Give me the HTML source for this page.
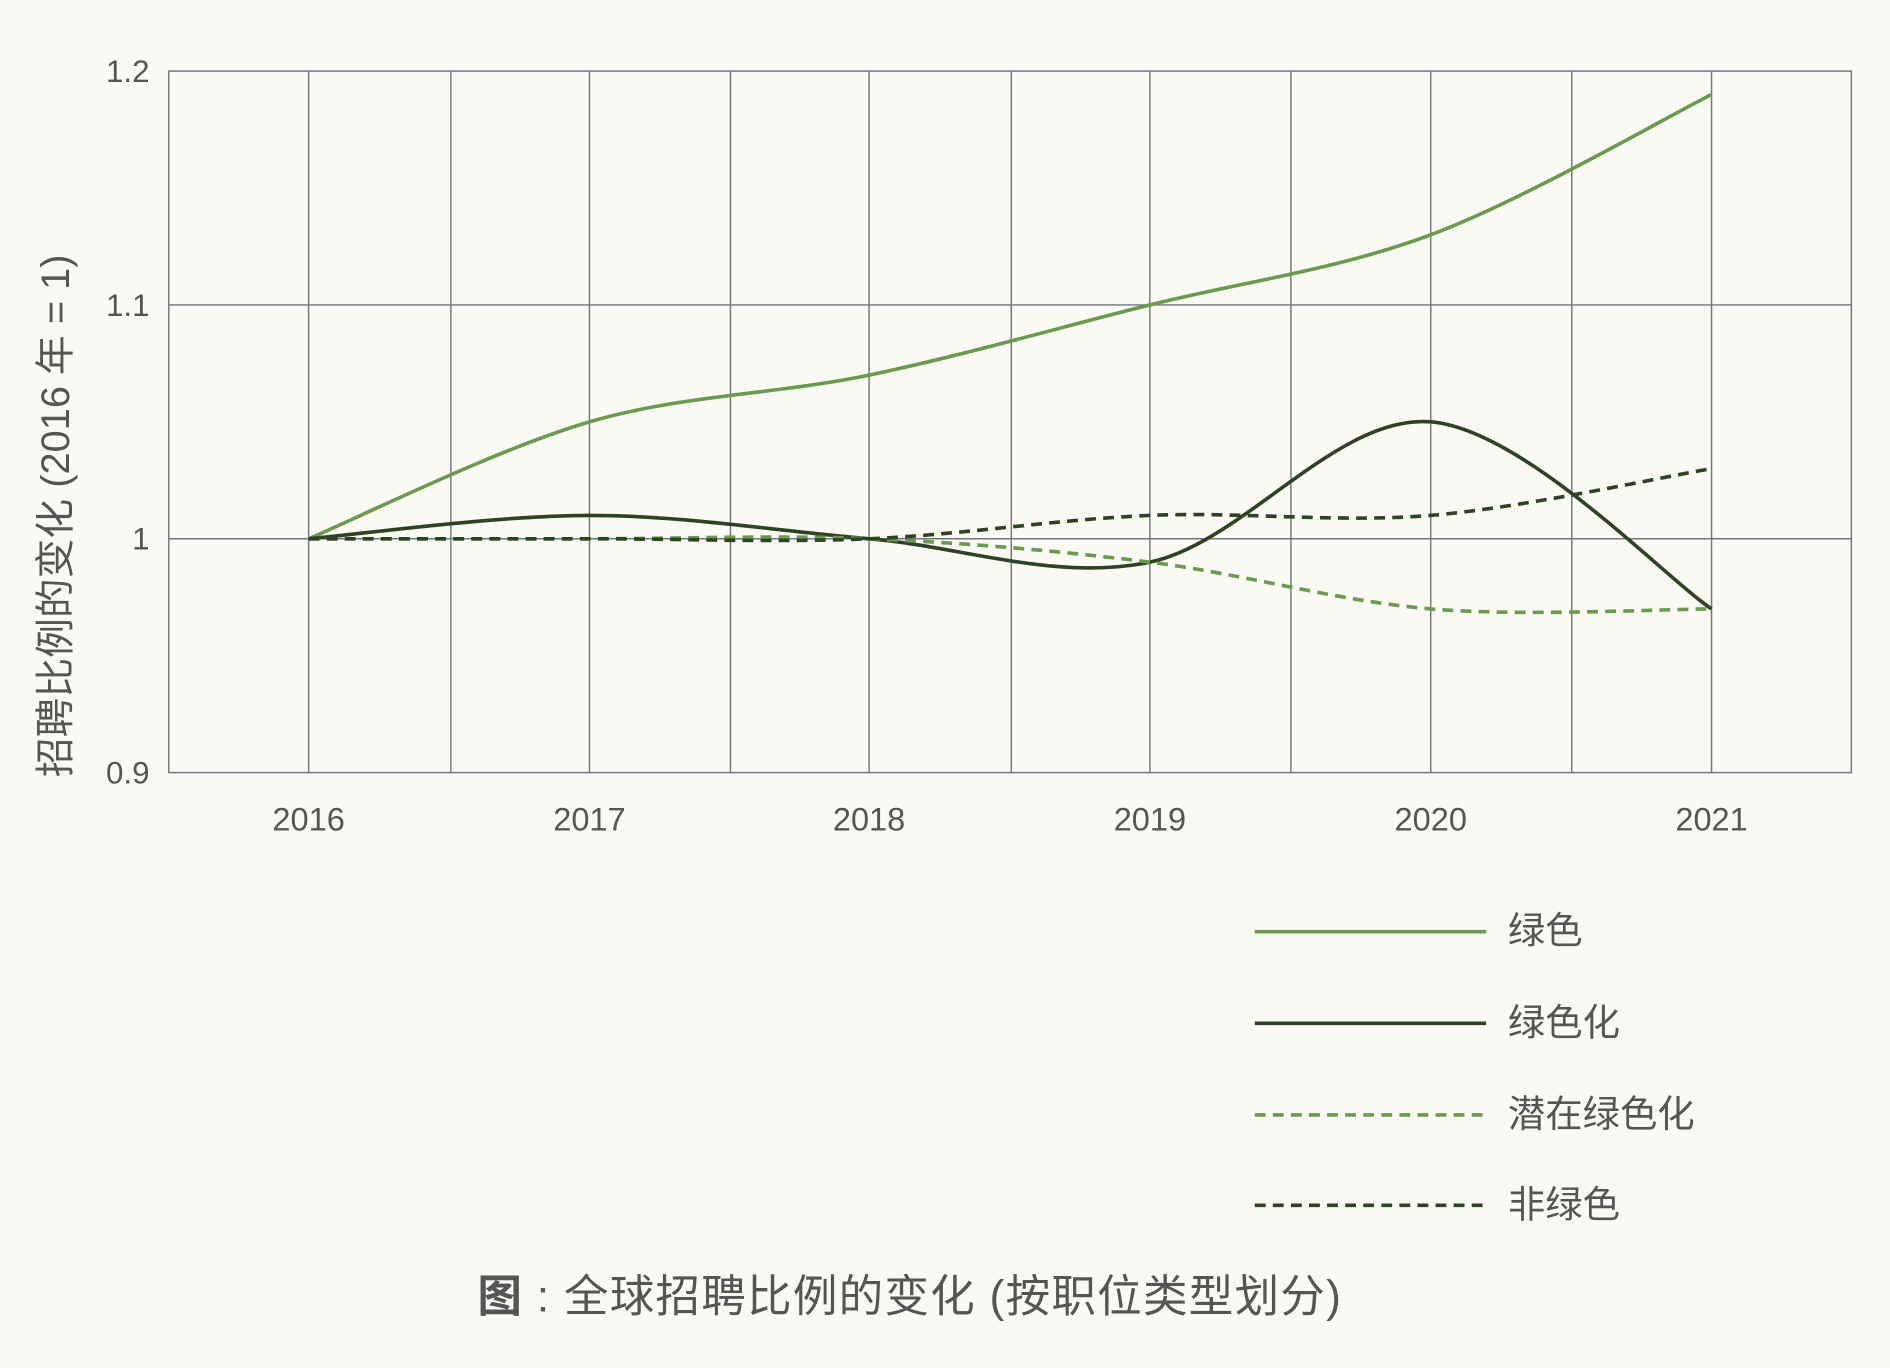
<!DOCTYPE html>
<html><head><meta charset="utf-8"><style>
html,body{margin:0;padding:0;background:#faf9f4;}
svg{display:block}
text{font-family:"Liberation Sans","Noto Sans CJK SC",sans-serif;fill:#555}
</style></head><body>
<svg id="s" width="1890" height="1368" viewBox="0 0 1568 1135" xmlns="http://www.w3.org/2000/svg">
<rect width="1568" height="1135" fill="#faf9f4"/>
<g stroke="#6f7682" stroke-width="1.2" fill="none">
<rect x="140" y="59" width="1396" height="582"/>
<line x1="140" y1="253" x2="1536" y2="253"/>
<line x1="140" y1="447" x2="1536" y2="447"/>
<line x1="256" y1="59" x2="256" y2="641"/><line x1="374" y1="59" x2="374" y2="641"/>
<line x1="489" y1="59" x2="489" y2="641"/><line x1="606" y1="59" x2="606" y2="641"/>
<line x1="721" y1="59" x2="721" y2="641"/><line x1="839" y1="59" x2="839" y2="641"/>
<line x1="954" y1="59" x2="954" y2="641"/><line x1="1071" y1="59" x2="1071" y2="641"/>
<line x1="1187" y1="59" x2="1187" y2="641"/><line x1="1304" y1="59" x2="1304" y2="641"/>
<line x1="1420" y1="59" x2="1420" y2="641"/>
</g>
<g font-size="26" text-anchor="end" style="font-family:'Liberation Serif',serif">
<text x="124" y="68">1.2</text><text x="124" y="262">1.1</text><text x="124" y="456">1</text><text x="124" y="650">0.9</text>
</g>
<g font-size="27" text-anchor="middle">
<text x="256" y="689">2016</text><text x="489" y="689">2017</text><text x="721" y="689">2018</text>
<text x="954" y="689">2019</text><text x="1187" y="689">2020</text><text x="1420" y="689">2021</text>
</g>
<text transform="translate(57,428) rotate(-90)" font-size="33" text-anchor="middle">招聘比例的变化 (2016 年 = 1)</text>
<g id="series" fill="none" stroke-width="3"></g>
<g stroke-width="3">
<line x1="1041" y1="773" x2="1233" y2="773" stroke="#6a9a50"/>
<line x1="1041" y1="849" x2="1233" y2="849" stroke="#2e4324"/>
<line x1="1041" y1="925" x2="1233" y2="925" stroke="#6a9a50" stroke-dasharray="9,6"/>
<line x1="1041" y1="1000" x2="1233" y2="1000" stroke="#2e4324" stroke-dasharray="9,6"/>
</g>
<g font-size="31">
<text x="1251" y="783">绿色</text><text x="1251" y="859">绿色化</text>
<text x="1251" y="935">潜在绿色化</text><text x="1251" y="1010">非绿色</text>
</g>
<text x="396" y="1088" font-size="37" fill="#444" letter-spacing="1"><tspan font-weight="bold">图</tspan> : 全球招聘比例的变化 (按职位类型划分)</text>
</svg>
<script>
var xs=[256,489,721,954,1187,1420];
function y(v){return 447-(v-1)*1940;}
var S=[[[1,1.05,1.07,1.10,1.13,1.19],"#6a9a50",""],
[[1,1.01,1,0.99,1.05,0.97],"#2e4324",""],
[[1,1,1,0.99,0.97,0.97],"#6a9a50","9,6"],
[[1,1,1,1.01,1.01,1.03],"#2e4324","9,6"]];
var g=document.getElementById("series"),h="";
S.forEach(function(s){
 var p=s[0].map(function(v,i){return [xs[i],y(v)]});
 var d="M"+p[0][0]+","+p[0][1];
 for(var i=0;i<p.length-1;i++){
  var p0=p[Math.max(i-1,0)],p1=p[i],p2=p[i+1],p3=p[Math.min(i+2,p.length-1)];
  var c1=[p1[0]+(p2[0]-p0[0])/6,p1[1]+(p2[1]-p0[1])/6];
  var c2=[p2[0]-(p3[0]-p1[0])/6,p2[1]-(p3[1]-p1[1])/6];
  d+=" C"+c1+" "+c2+" "+p2;
 }
 h+='<path d="'+d+'" stroke="'+s[1]+'"'+(s[2]?' stroke-dasharray="'+s[2]+'"':'')+'/>';
});
g.innerHTML=h;
</script>
</body></html>
